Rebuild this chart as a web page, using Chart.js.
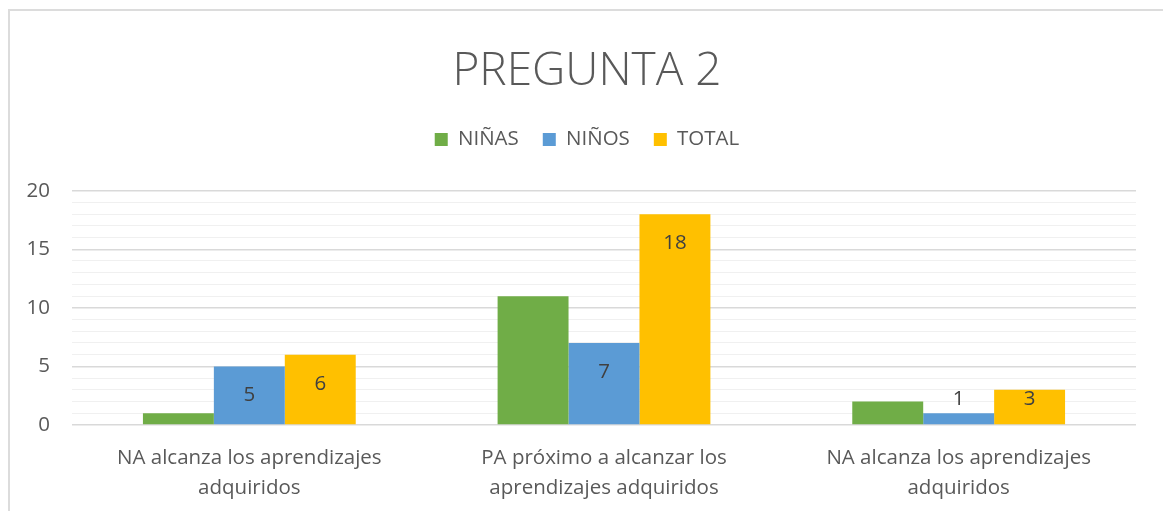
<!DOCTYPE html>
<html lang="es">
<head>
    <meta charset="UTF-8">
    <title>PREGUNTA 2</title>
    <script src="https://cdn.jsdelivr.net/npm/chart.js"></script>
    <style>
        body { margin: 0; background: #fff; font-family: "Open Sans", sans-serif; }
        .frame { position: absolute; left: 8px; top: 9px; width: 1200px; height: 600px;
                 border-top: 2px solid #dcdcdc; border-left: 2px solid #dcdcdc; }
        .chart-container { position: absolute; left: 0; top: 0; width: 1163px; height: 511px; }
    </style>
</head>
<body>
    <div class="frame"></div>
    <div class="chart-container">
        <canvas id="chart"></canvas>
    </div>

    <script>
        const categories = [
            ['NA alcanza los aprendizajes', 'adquiridos'],
            ['PA próximo a alcanzar los', 'aprendizajes adquiridos'],
            ['NA alcanza los aprendizajes', 'adquiridos']
        ];
        const ninas = [1, 11, 2];
        const ninos = [5, 7, 1];
        const total = [6, 18, 3];

        const FONT = '"Open Sans"';
        const GREY = '#595959';

        // values written on the bars (NIÑOS and TOTAL only)
        const barLabels = {
            id: 'barLabels',
            afterDatasetsDraw(chart) {
                const ctx = chart.ctx;
                ctx.save();
                ctx.font = '20.5px "Open Sans"';
                ctx.fillStyle = '#404040';
                ctx.textAlign = 'center';
                ctx.textBaseline = 'middle';
                [1, 2].forEach(di => {
                    const meta = chart.getDatasetMeta(di);
                    meta.data.forEach((bar, i) => {
                        const y = Math.min(bar.y + 29, bar.base - 25);
                        ctx.fillText(chart.data.datasets[di].data[i], bar.x, y);
                    });
                });
                ctx.restore();
            }
        };

        // extra room under the legend, and let the y labels use the left padding
        const layoutTweaks = {
            id: 'layoutTweaks',
            beforeInit(chart) {
                const fit = chart.legend.fit;
                chart.legend.fit = function () {
                    fit.call(this);
                    this.height += 31;
                };
            },
            afterLayout(chart) {
                chart.scales.y.left = 0;
            }
        };

        new Chart(document.getElementById('chart'), {
            type: 'bar',
            data: {
                labels: categories,
                datasets: [
                    { label: 'NIÑAS', data: ninas, backgroundColor: '#70AD47' },
                    { label: 'NIÑOS', data: ninos, backgroundColor: '#5B9BD5' },
                    { label: 'TOTAL', data: total, backgroundColor: '#FFC000' }
                ]
            },
            options: {
                responsive: true,
                maintainAspectRatio: false,
                animation: false,
                datasets: { bar: { barPercentage: 1, categoryPercentage: 0.6 } },
                layout: { padding: { left: 38, right: 27, top: 44, bottom: 0 } },
                plugins: {
                    title: {
                        display: true,
                        text: 'PREGUNTA 2',
                        color: GREY,
                        font: { family: FONT, size: 46, weight: 300 },
                        padding: { top: 0, bottom: 6 }
                    },
                    legend: {
                        position: 'top',
                        labels: {
                            color: GREY,
                            font: { family: FONT, size: 20.5 },
                            boxWidth: 13,
                            boxHeight: 13,
                            padding: 24
                        }
                    },
                    tooltip: { enabled: false }
                },
                scales: {
                    x: {
                        grid: { display: false },
                        border: { display: false },
                        afterFit: s => { s.height = 86; },
                        ticks: {
                            color: GREY,
                            font: { family: FONT, size: 20.5, lineHeight: 1.46 },
                            padding: 10,
                            maxRotation: 0
                        }
                    },
                    y: {
                        min: 0,
                        max: 20,
                        border: { display: false },
                        afterFit: s => { s.width = 34; },
                        grid: {
                            drawTicks: false,
                            color: c => c.tick.value % 5 === 0 ? '#d9d9d9' : '#f0f0f0',
                            lineWidth: c => c.tick.value % 5 === 0 ? 1.5 : 1
                        },
                        ticks: {
                            stepSize: 1,
                            autoSkip: false,
                            color: GREY,
                            font: { family: FONT, size: 20.5 },
                            padding: 22,
                            callback: v => v % 5 === 0 ? v : ''
                        }
                    }
                }
            },
            plugins: [barLabels, layoutTweaks]
        });
    </script>
</body>
</html>
